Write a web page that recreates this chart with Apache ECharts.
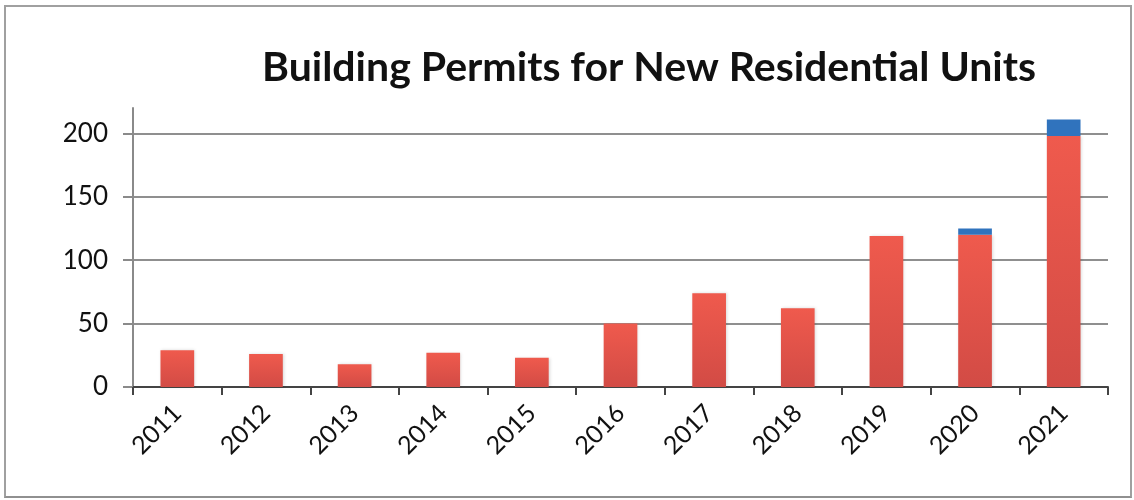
<!DOCTYPE html>
<html>
<head>
<meta charset="utf-8">
<script src="https://cdn.jsdelivr.net/npm/echarts@6/dist/echarts.min.js"></script>
<style>
html,body{margin:0;padding:0;background:#fff;}
#frame{position:absolute;left:4px;top:5px;width:1124px;height:489px;border:2px solid #a0a0a0;border-bottom-color:#909090;}
#c{position:absolute;left:0;top:0;width:1134px;height:500px;}
</style>
</head>
<body>
<div id="frame"></div>
<div id="c"></div>
<script>
const years = ['2011','2012','2013','2014','2015','2016','2017','2018','2019','2020','2021'];
const permitsMain = [29, 26, 18, 27, 23, 50, 74, 62, 119, 120, 198];
const permitsExtra = [0, 0, 0, 0, 0, 0, 0, 0, 0, 5, 13];
const yTicks = [0, 50, 100, 150, 200];

const chart = echarts.init(document.getElementById('c'), null, {renderer: 'canvas'});
const FONT = 'Lato, "Open Sans", sans-serif';
chart.setOption({
  animation: false,
  backgroundColor: 'transparent',
  title: {
    text: 'Building Permits for New Residential Units',
    left: 257,
    top: 42,
    textStyle: {fontFamily: FONT, fontWeight: 'bold', fontSize: 41, color: '#111'}
  },
  grid: {left: 133, right: 26, top: 108, bottom: 113, containLabel: false},
  xAxis: {
    type: 'category',
    data: years,
    boundaryGap: true,
    axisLine: {show: true, lineStyle: {color: '#444', width: 2}},
    axisTick: {show: true, alignWithLabel: false, length: 8, lineStyle: {color: '#444', width: 2}},
    axisLabel: {rotate: 45, fontFamily: FONT, fontSize: 25, color: '#111', margin: 22},
    splitLine: {show: false}
  },
  yAxis: {
    type: 'value',
    min: 0,
    max: 220,
    interval: 50,
    axisLine: {show: true, lineStyle: {color: '#8a8a8a', width: 2}},
    axisTick: {show: true, customValues: yTicks, length: 10, lineStyle: {color: '#8a8a8a', width: 2}},
    axisLabel: {customValues: yTicks, fontFamily: FONT, fontSize: 26, color: '#111', margin: 25},
    splitLine: {show: true, customValues: yTicks, lineStyle: {color: '#8f8f8f', width: 2}}
  },
  series: [
    {
      name: 'Units',
      type: 'bar',
      stack: 'p',
      data: permitsMain,
      barWidth: '38%',
      clip: false,
      itemStyle: {
        color: new echarts.graphic.LinearGradient(0, 0, 0, 1, [
          {offset: 0, color: '#ef5a4d'},
          {offset: 1, color: '#d24b45'}
        ]),
        shadowColor: 'rgba(0,0,0,0.15)',
        shadowBlur: 3,
        shadowOffsetX: 1
      }
    },
    {
      name: 'Extra',
      type: 'bar',
      stack: 'p',
      data: permitsExtra,
      barWidth: '38%',
      clip: false,
      itemStyle: {color: '#3073bd'}
    }
  ]
});
</script>
</body>
</html>
